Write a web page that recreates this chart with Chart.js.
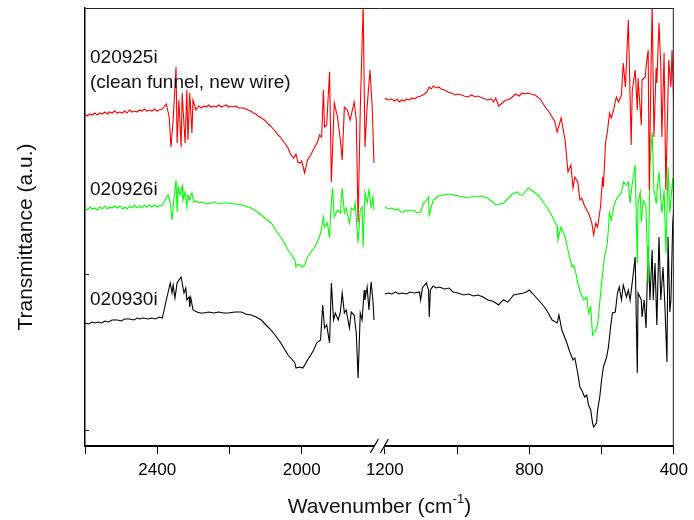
<!DOCTYPE html>
<html>
<head>
<meta charset="utf-8">
<script src="https://cdn.jsdelivr.net/npm/chart.js@4/dist/chart.umd.min.js"></script>
<style>
  html, body { margin: 0; padding: 0; background: #fff; }
</style>
</head>
<body>
<canvas id="ir" width="694" height="520"></canvas>
<script>
// wavenumber (cm-1) -> transmittance (a.u., offset traces)
const red_2600_1800 = [[2600,332],[2593,330],[2586,332],[2579,331],[2573,333],[2566,331],[2559,333],[2552,332],[2545,334],[2538,332],[2532,334],[2525,333],[2518,335],[2511,333],[2504,334],[2497,333],[2490,335],[2484,333],[2477,336],[2470,334],[2463,335],[2456,334],[2449,336],[2442,335],[2436,337],[2429,335],[2422,336],[2415,335],[2408,337],[2401,335],[2395,336],[2386,337],[2375,342],[2367,329],[2362,299],[2356,326],[2348,379],[2345,303],[2340,346],[2334,299],[2331,353],[2323,303],[2318,356],[2315,306],[2310,353],[2304,313],[2301,346],[2293,336],[2285,340],[2278,338],[2271,340],[2264,339],[2258,341],[2251,339],[2244,340],[2237,339],[2230,341],[2223,339],[2216,340],[2209,341],[2203,339],[2196,340],[2189,339],[2182,340],[2175,338],[2162,338],[2148,336],[2141,335],[2134,333],[2127,332],[2121,330],[2107,327],[2100,325],[2093,322],[2086,320],[2079,317],[2072,314],[2066,311],[2059,309],[2052,305],[2045,302],[2038,298],[2030,291],[2022,288],[2016,292],[2011,284],[2005,283],[2000,285],[1992,273],[1984,286],[1975,291],[1964,299],[1956,304],[1951,311],[1945,309],[1940,356],[1937,319],[1931,321],[1923,374],[1918,264],[1910,343],[1901,329],[1893,306],[1888,286],[1882,339],[1874,336],[1866,326],[1855,344],[1849,326],[1844,224],[1838,336],[1830,441],[1825,299],[1819,339],[1811,376],[1805,339],[1800,283]];
const red_1200_400 = [[1200,348],[1192,346],[1181,347],[1173,345],[1166,347],[1160,344],[1153,346],[1146,345],[1140,347],[1132,346],[1125,348],[1118,347],[1110,349],[1100,350],[1090,352],[1084,354],[1077,359],[1072,357],[1066,360],[1058,358],[1050,359],[1044,357],[1035,356],[1025,354],[1016,353],[1005,351],[995,352],[981,350],[970,349],[960,351],[950,349],[942,350],[930,348],[915,346],[905,347],[899,344],[893,348],[885,340],[875,343],[866,346],[860,346],[850,348],[838,352],[828,350],[820,353],[812,352],[805,353],[795,352],[784,351],[770,347],[756,339],[747,335],[737,329],[730,325],[723,314],[712,328],[701,306],[693,274],[685,281],[679,258],[674,269],[666,264],[660,246],[655,248],[648,241],[641,236],[634,231],[627,223],[622,211],[616,223],[611,219],[603,239],[597,269],[595,259],[589,303],[584,314],[578,333],[573,328],[567,336],[559,349],[553,344],[545,351],[540,383],[534,359],[526,426],[518,301],[515,356],[507,376],[501,336],[499,368],[490,321],[488,366],[479,369],[477,379],[471,396],[468,256],[463,381],[460,441],[455,309],[449,378],[447,363],[441,423],[436,379],[433,309],[427,393],[422,256],[414,386],[408,359],[405,396],[400,339]];

const green_2600_1800 = [[2600,238],[2593,236],[2586,239],[2579,237],[2573,238],[2566,236],[2559,239],[2552,237],[2545,240],[2538,237],[2532,239],[2525,238],[2518,240],[2510,238],[2503,240],[2496,237],[2490,239],[2483,237],[2477,240],[2470,238],[2463,241],[2456,238],[2449,240],[2442,238],[2436,241],[2429,239],[2422,241],[2416,239],[2408,241],[2401,239],[2395,240],[2386,241],[2375,248],[2370,251],[2364,243],[2359,226],[2356,239],[2348,266],[2345,234],[2342,259],[2337,251],[2331,260],[2329,246],[2323,254],[2318,239],[2315,251],[2310,246],[2304,253],[2299,244],[2292,245],[2285,243],[2275,244],[2265,242],[2252,243],[2240,244],[2228,242],[2215,243],[2203,243],[2190,242],[2178,242],[2167,241],[2155,240],[2140,238],[2126,235],[2112,231],[2099,227],[2085,223],[2072,216],[2058,209],[2048,203],[2038,196],[2028,191],[2019,186],[2016,179],[2011,182],[2005,181],[1998,179],[1992,181],[1984,189],[1974,194],[1964,199],[1951,209],[1945,218],[1940,229],[1937,219],[1929,223],[1923,208],[1920,233],[1915,258],[1910,229],[1901,236],[1893,233],[1888,258],[1882,233],[1877,238],[1868,223],[1863,238],[1855,236],[1852,243],[1844,203],[1838,236],[1833,239],[1830,199],[1825,254],[1819,243],[1814,256],[1808,239],[1803,249],[1800,236]];
const green_1200_400 = [[1200,239],[1190,237],[1181,238],[1172,236],[1164,237],[1156,234],[1148,234],[1140,236],[1130,235],[1121,236],[1112,233],[1101,234],[1093,243],[1088,244],[1079,249],[1077,231],[1066,246],[1058,248],[1052,250],[1040,251],[1025,252],[1010,251],[995,250],[982,249],[970,248],[955,250],[945,249],[934,250],[925,249],[915,248],[905,245],[893,241],[882,242],[871,243],[860,247],[847,252],[840,253],[833,254],[826,251],[819,251],[810,255],[803,258],[795,256],[784,253],[773,250],[762,244],[752,239],[742,233],[733,227],[723,219],[721,206],[712,219],[701,209],[693,196],[682,179],[677,181],[671,173],[666,163],[658,153],[649,146],[641,149],[636,133],[630,139],[625,111],[616,116],[611,121],[600,163],[592,189],[584,203],[578,233],[573,226],[564,243],[556,249],[545,253],[540,264],[531,261],[526,264],[521,243],[515,263],[507,281],[501,183],[499,243],[493,254],[490,224],[485,246],[477,239],[471,163],[466,281],[460,314],[455,256],[449,243],[447,253],[441,274],[436,246],[433,233],[427,256],[422,193],[416,279],[411,233],[408,246],[403,268],[400,246]];

const black_2600_1800 = [[2600,123],[2590,122],[2580,124],[2573,123],[2563,124],[2553,123],[2545,125],[2535,124],[2525,126],[2510,126],[2500,125],[2490,127],[2477,127],[2465,126],[2455,128],[2449,127],[2438,128],[2426,127],[2416,128],[2405,127],[2395,129],[2386,128],[2381,136],[2373,149],[2364,163],[2359,153],[2356,161],[2351,148],[2345,163],[2340,166],[2334,169],[2331,163],[2326,153],[2321,158],[2318,146],[2312,149],[2310,139],[2307,148],[2301,136],[2290,134],[2280,133],[2271,133],[2258,134],[2244,133],[2230,134],[2216,133],[2203,133],[2185,134],[2167,134],[2155,132],[2140,131],[2126,129],[2112,126],[2099,121],[2085,116],[2072,110],[2058,103],[2048,97],[2038,91],[2028,87],[2019,83],[2016,78],[2005,79],[1997,78],[1990,82],[1984,86],[1975,91],[1967,96],[1959,103],[1948,106],[1942,141],[1937,118],[1931,121],[1923,103],[1918,163],[1912,126],[1907,133],[1899,126],[1893,134],[1888,153],[1882,133],[1877,136],[1868,118],[1863,134],[1855,131],[1849,113],[1844,68],[1838,133],[1833,126],[1827,156],[1825,146],[1819,159],[1814,136],[1808,164],[1803,146],[1800,126]];
const black_1200_400 = [[1200,152],[1190,153],[1181,152],[1170,154],[1160,152],[1153,153],[1140,152],[1130,154],[1118,153],[1104,154],[1101,146],[1096,158],[1085,163],[1079,156],[1077,129],[1074,156],[1066,160],[1058,158],[1049,159],[1035,157],[1022,158],[1011,154],[998,153],[981,151],[968,152],[955,150],[942,151],[928,149],[915,146],[903,145],[893,143],[885,141],[878,144],[871,146],[860,144],[850,148],[844,151],[830,152],[816,153],[808,154],[800,156],[792,153],[775,146],[765,142],[756,138],[746,132],[737,126],[723,123],[718,131],[710,116],[696,103],[688,94],[679,86],[674,88],[666,73],[660,59],[655,56],[647,49],[641,51],[636,41],[630,36],[625,23],[622,19],[614,23],[611,36],[605,49],[600,66],[595,79],[586,89],[581,99],[575,119],[570,133],[562,134],[556,153],[551,159],[545,146],[540,161],[531,149],[526,156],[521,146],[515,164],[507,189],[501,73],[499,153],[490,146],[488,129],[482,146],[477,118],[471,199],[466,146],[460,196],[457,146],[452,183],[447,121],[441,209],[436,146],[430,179],[425,143],[419,84],[416,209],[411,134],[408,146],[403,223],[400,236]];

const sampleNames = ["020925i", "020926i", "020930i"];
const sampleNote = "(clean funnel, new wire)";
const tickWavenumbers = [2600, 2400, 2200, 2000, 1200, 1000, 800, 600, 400];
const labeledWavenumbers = [2400, 2000, 1200, 800, 400];

const FONT = "'Liberation Sans', Arial, sans-serif";
const X_START = 2600;
const BREAK_HIGH = 1800;
const BREAK_LOW = 1200;
const BREAK_GAP = 30;

// broken axis: 2600-1800 then 1200-400 on one linear scale
function axisPos(w) {
    return w >= BREAK_HIGH ? X_START - w : (X_START - BREAK_HIGH) + BREAK_GAP + (BREAK_LOW - w);
}
const gapPos = (X_START - BREAK_HIGH) + BREAK_GAP / 2;

function toPoints(left, right) {
    const pts = left.map(([w, t]) => ({ x: axisPos(w), y: t }));
    pts.push({ x: gapPos, y: null });
    right.forEach(([w, t]) => pts.push({ x: axisPos(w), y: t }));
    return pts;
}

const decorations = {
    id: "decorations",
    afterDraw(chart) {
        const { ctx, chartArea: a, scales: { x, y } } = chart;
        ctx.save();
        // frame top / right
        ctx.strokeStyle = "#222";
        ctx.lineWidth = 1;
        ctx.beginPath();
        ctx.moveTo(a.left, a.top + 0.5);
        ctx.lineTo(a.right, a.top + 0.5);
        ctx.moveTo(a.right - 0.5, a.top);
        ctx.lineTo(a.right - 0.5, a.bottom);
        ctx.stroke();
        // inward y ticks
        [16, 172].forEach((v) => {
            const py = Math.round(y.getPixelForValue(v)) + 0.5;
            ctx.beginPath();
            ctx.moveTo(a.left, py);
            ctx.lineTo(a.left + 4, py);
            ctx.stroke();
        });
        // axis break marks
        const bx = x.getPixelForValue(gapPos);
        const by = a.bottom;
        ctx.fillStyle = "#fff";
        ctx.fillRect(bx - 5, by - 3, 10, 6);
        ctx.strokeStyle = "#000";
        ctx.lineWidth = 1.2;
        [-5, 5].forEach((dx) => {
            ctx.beginPath();
            ctx.moveTo(bx + dx - 4, by + 7);
            ctx.lineTo(bx + dx + 4, by - 7);
            ctx.stroke();
        });
        // sample labels
        ctx.fillStyle = "#111";
        ctx.font = "19px " + FONT;
        ctx.textBaseline = "alphabetic";
        ctx.textAlign = "left";
        ctx.fillText(sampleNames[0], 90, 63);
        ctx.fillText(sampleNote, 90, 88);
        ctx.fillText(sampleNames[1], 90, 195);
        ctx.fillText(sampleNames[2], 90, 305);
        // y title
        ctx.save();
        ctx.translate(32, 237);
        ctx.rotate(-Math.PI / 2);
        ctx.font = "21px " + FONT;
        ctx.textAlign = "center";
        ctx.fillText("Transmittance (a.u.)", 0, 0);
        ctx.restore();
        // x title with superscript
        const main = "Wavenumber (cm";
        const sup = "-1";
        const tail = ")";
        ctx.font = "21px " + FONT;
        const w1 = ctx.measureText(main).width;
        const w3 = ctx.measureText(tail).width;
        ctx.font = "13px " + FONT;
        const w2 = ctx.measureText(sup).width;
        let tx = (a.left + a.right) / 2 - (w1 + w2 + w3) / 2;
        ctx.font = "21px " + FONT;
        ctx.fillText(main, tx, 513);
        ctx.font = "13px " + FONT;
        ctx.fillText(sup, tx + w1, 503);
        ctx.font = "21px " + FONT;
        ctx.fillText(tail, tx + w1 + w2, 513);
        ctx.restore();
    },
};

new Chart(document.getElementById("ir"), {
    type: "line",
    data: {
        datasets: [
            { label: sampleNames[0], data: toPoints(red_2600_1800, red_1200_400), borderColor: "#ff0000" },
            { label: sampleNames[1], data: toPoints(green_2600_1800, green_1200_400), borderColor: "#00ff00" },
            { label: sampleNames[2], data: toPoints(black_2600_1800, black_1200_400), borderColor: "#000000" },
        ],
    },
    options: {
        responsive: false,
        animation: false,
        devicePixelRatio: 1,
        layout: { padding: { top: 8, right: 14, left: 0, bottom: 0 } },
        elements: {
            line: { borderWidth: 1.1, tension: 0 },
            point: { radius: 0 },
        },
        datasets: { line: { spanGaps: false } },
        plugins: { legend: { display: false }, tooltip: { enabled: false } },
        scales: {
            x: {
                type: "linear",
                min: 0,
                max: axisPos(400),
                afterFit: (s) => { s.height = 74; },
                afterBuildTicks: (s) => {
                    s.ticks = tickWavenumbers.map((w) => ({ value: axisPos(w) }));
                },
                ticks: {
                    autoSkip: false,
                    maxRotation: 0,
                    padding: 6,
                    color: "#000",
                    font: { family: FONT, size: 17 },
                    callback: (v) => {
                        const w = tickWavenumbers.find((t) => axisPos(t) === v);
                        return labeledWavenumbers.includes(w) ? String(w) : "";
                    },
                },
                grid: { drawOnChartArea: false, tickLength: 8, color: "#000", tickWidth: 1 },
                border: { color: "#000", width: 2 },
            },
            y: {
                type: "linear",
                min: 0,
                max: 438,
                afterFit: (s) => { s.width = 85; },
                ticks: { display: false },
                grid: { drawOnChartArea: false, drawTicks: false },
                border: { color: "#000", width: 1.5 },
            },
        },
    },
    plugins: [decorations],
});
</script>
</body>
</html>
